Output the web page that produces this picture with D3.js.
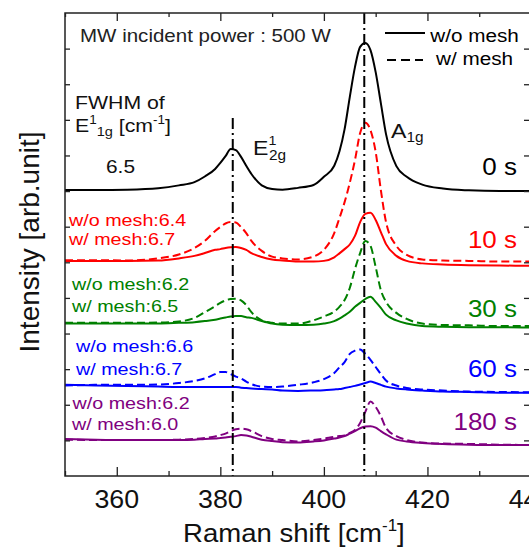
<!DOCTYPE html>
<html><head><meta charset="utf-8">
<script src="https://cdn.jsdelivr.net/npm/d3@7"></script>
<style>html,body{margin:0;padding:0;background:#fff;overflow:hidden}</style>
</head><body>
<svg id="chart" width="529" height="547"></svg>
<script>
// ---- data (Raman shift in cm^-1, intensity in arb. units, spectra offset) ----
const ramanShift = [350,356,362,368,372,375,377,379,380,381,382,383,384,385,386,388,390,392,395,398,400,402,403,404,405,406,407,408,409,410,411,412,414,416,419,423,428,434,440];

const woMesh0s   = [8.03,8.03,8.04,8.08,8.16,8.25,8.41,8.62,8.79,8.98,9.18,9.15,8.96,8.71,8.48,8.16,8.06,8.04,8.09,8.17,8.40,8.71,9.11,9.74,10.64,11.48,12.05,12.16,11.96,11.34,10.47,9.60,8.70,8.40,8.18,8.07,8.02,8.00,8.00];

const woMesh10s  = [6.04,6.04,6.04,6.05,6.11,6.18,6.26,6.35,6.37,6.40,6.42,6.43,6.40,6.35,6.26,6.15,6.08,6.05,6.02,6.02,6.04,6.14,6.25,6.37,6.50,6.74,7.13,7.36,7.39,7.19,6.85,6.51,6.18,6.04,5.97,5.94,5.92,5.91,5.90];
const wMesh10s   = [6.06,6.06,6.05,6.11,6.22,6.40,6.60,6.88,6.99,7.09,7.13,7.12,6.99,6.82,6.60,6.32,6.16,6.11,6.08,6.16,6.35,6.82,7.24,7.69,8.23,8.87,9.63,9.92,9.71,9.10,8.03,7.13,6.46,6.21,6.08,6.05,6.04,6.02,6.02];

const woMesh30s  = [4.28,4.28,4.28,4.28,4.30,4.32,4.35,4.39,4.42,4.45,4.48,4.49,4.49,4.46,4.44,4.35,4.28,4.25,4.24,4.25,4.28,4.35,4.42,4.51,4.61,4.75,4.86,4.97,5.03,4.89,4.72,4.53,4.37,4.28,4.21,4.19,4.18,4.18,4.17];
const wMesh30s   = [4.30,4.30,4.30,4.31,4.34,4.44,4.60,4.77,4.86,4.93,4.97,4.98,4.93,4.80,4.60,4.37,4.30,4.28,4.28,4.37,4.48,4.62,4.75,4.94,5.28,5.81,6.26,6.60,6.46,5.87,5.22,4.89,4.58,4.41,4.28,4.24,4.23,4.21,4.21];

const woMesh60s  = [2.56,2.54,2.53,2.51,2.50,2.50,2.50,2.50,2.50,2.50,2.50,2.50,2.48,2.47,2.46,2.44,2.43,2.40,2.39,2.40,2.41,2.43,2.44,2.47,2.50,2.53,2.57,2.61,2.65,2.61,2.56,2.51,2.46,2.43,2.40,2.37,2.36,2.34,2.34];
const wMesh60s   = [2.54,2.56,2.56,2.57,2.61,2.67,2.74,2.86,2.92,2.92,2.86,2.79,2.74,2.65,2.58,2.51,2.50,2.51,2.56,2.63,2.72,2.89,3.05,3.20,3.43,3.52,3.55,3.43,3.26,3.06,2.86,2.68,2.54,2.47,2.43,2.40,2.37,2.36,2.35];

const woMesh180s = [1.04,1.02,1.01,1.01,1.01,1.02,1.04,1.05,1.07,1.08,1.10,1.12,1.15,1.14,1.10,1.02,0.98,0.95,0.94,0.97,1.00,1.05,1.08,1.12,1.19,1.26,1.34,1.39,1.40,1.36,1.26,1.17,1.02,0.97,0.93,0.90,0.88,0.87,0.87];
const wMesh180s  = [1.02,1.01,1.01,1.01,1.02,1.04,1.07,1.11,1.15,1.19,1.26,1.31,1.33,1.31,1.26,1.12,1.04,1.01,0.97,1.01,1.05,1.10,1.12,1.14,1.21,1.29,1.49,1.80,2.09,1.94,1.68,1.35,1.12,1.01,0.94,0.91,0.90,0.88,0.87];

const timeLabels  = ["0 s","10 s","30 s","60 s","180 s"];
const seriesColors = ["#000000","#ff0000","#008000","#0000ff","#800080"];
const fwhmWo = [null,"6.4","6.2","6.6","6.2"];
const fwhmW  = [null,"6.7","6.5","6.7","6.0"];
const fwhmRef = "6.5";
const peakE2g = 382.4, peakA1g = 407.8;
const xMajorTicks = [360,380,400,420,440];
const xMinorTicks = [350,370,390,410,430];
const yTicks = [1,2,3,4,5,6,7,8,9,10,11,12];

// ---- layout ----
const FONT = "'Liberation Sans', Arial, Helvetica, sans-serif";
const svg = d3.select("#chart");
const L = 65, R = 531, T = 13, B = 476;
const x = d3.scaleLinear().domain([350,440]).range([L,R]);
const y = d3.scaleLinear().domain([0,13]).range([B,T]);

function stext(px, py, parts, o) {
  const t = svg.append("text")
    .attr("transform", `translate(${px},${py}) scale(${o.sx||1},1)`)
    .attr("font-family", FONT).attr("fill", o.color||"#000")
    .attr("text-anchor", o.anchor||"start");
  parts.forEach(p => {
    const ts = t.append("tspan").attr("font-size", p.size||o.size).text(p.t);
    if (p.dy) ts.attr("dy", p.dy);
    if (p.x !== undefined) ts.attr("x", p.x);
  });
  return t;
}

// ---- curves ----
const line = d3.line().x((d,i)=>x(ramanShift[i])).y(d=>y(d)).curve(d3.curveMonotoneX);
const solids = [woMesh0s, woMesh10s, woMesh30s, woMesh60s, woMesh180s];
const dashes = [null, wMesh10s, wMesh30s, wMesh60s, wMesh180s];
const plot = svg.append("g");
dashes.forEach((s,i)=>{ if(!s) return;
  plot.append("path").attr("d", line(s)).attr("fill","none")
    .attr("stroke", seriesColors[i]).attr("stroke-width",2).attr("stroke-dasharray","8,4");
});
solids.forEach((s,i)=>{
  plot.append("path").attr("d", line(s)).attr("fill","none")
    .attr("stroke", seriesColors[i]).attr("stroke-width",2);
});

// ---- dash-dot peak lines ----
svg.append("line").attr("x1",x(peakE2g)).attr("x2",x(peakE2g)).attr("y1",118).attr("y2",B)
  .attr("stroke","#000").attr("stroke-width",2).attr("stroke-dasharray","11,4,2,4");
svg.append("line").attr("x1",x(peakA1g)).attr("x2",x(peakA1g)).attr("y1",T).attr("y2",B)
  .attr("stroke","#000").attr("stroke-width",2).attr("stroke-dasharray","11,4,2,4");

// ---- axes / frame ----
const axStroke = "#222";
function styleAxis(g){ g.select(".domain").remove(); g.selectAll("line").attr("stroke",axStroke).attr("stroke-width",1.3); }
svg.append("g").attr("transform",`translate(0,${B})`)
  .call(d3.axisBottom(x).tickValues(xMajorTicks).tickSize(-9).tickFormat("")).call(styleAxis);
svg.append("g").attr("transform",`translate(0,${B})`)
  .call(d3.axisBottom(x).tickValues(xMinorTicks).tickSize(-5).tickFormat("")).call(styleAxis);
svg.append("g").attr("transform",`translate(0,${T})`)
  .call(d3.axisTop(x).tickValues(xMajorTicks).tickSize(-8).tickFormat("")).call(styleAxis);
svg.append("g").attr("transform",`translate(0,${T})`)
  .call(d3.axisTop(x).tickValues(xMinorTicks).tickSize(-4).tickFormat("")).call(styleAxis);
svg.append("g").attr("transform",`translate(${L},0)`)
  .call(d3.axisLeft(y).tickValues(yTicks).tickSize(-5).tickFormat("")).call(styleAxis);
svg.append("g").attr("transform",`translate(${R},0)`)
  .call(d3.axisRight(y).tickValues(yTicks).tickSize(-7).tickFormat("")).call(styleAxis);
svg.append("rect").attr("x",L).attr("y",T).attr("width",R-L).attr("height",B-T)
  .attr("fill","none").attr("stroke",axStroke).attr("stroke-width",1.5);

// tick labels
xMajorTicks.forEach(v=> stext(x(v), 508, [{t:String(v)}], {size:26, sx:1.03, anchor:"middle", color:"#111"}));
// axis titles
stext(183, 541.5, [{t:"Raman shift [cm"},{t:"-1",size:16,dy:-11},{t:"]",dy:11}], {size:26, sx:1.06, color:"#111"});
svg.append("text").attr("transform","translate(38.5,242) rotate(-90)")
  .attr("font-family",FONT).attr("font-size",28).attr("text-anchor","middle").attr("fill","#111")
  .text("Intensity [arb.unit]");

// ---- annotations ----
stext(80, 42, [{t:"MW incident power : 500 W"}], {size:18, sx:1.14, color:"#222"});
// legend
svg.append("line").attr("x1",385).attr("x2",425).attr("y1",33).attr("y2",33).attr("stroke","#000").attr("stroke-width",2);
svg.append("line").attr("x1",387).attr("x2",423).attr("y1",60).attr("y2",60).attr("stroke","#000").attr("stroke-width",2).attr("stroke-dasharray","9,5");
stext(474.5, 42, [{t:"w/o mesh"}], {size:18.5, sx:1.12, anchor:"middle"});
stext(474.5, 65, [{t:"w/ mesh"}], {size:18.5, sx:1.12, anchor:"middle"});

stext(75, 109, [{t:"FWHM of"}], {size:19, sx:1.12, color:"#111"});
stext(75, 132, [{t:"E"},{t:"1",size:12,dy:-8},{t:"1g",size:13,dy:12},{t:" [cm",dy:-4},{t:"-1",size:12,dy:-8},{t:"]",dy:8}], {size:19, sx:1.12, color:"#111"});
stext(106, 173, [{t:fwhmRef}], {size:18.5, sx:1.13, color:"#111"});

stext(253, 155, [{t:"E"},{t:"1",size:13,dy:-10},{t:"2g",size:14,dy:15,x:14.5}], {size:21, sx:1.1, color:"#111"});
stext(391, 138, [{t:"A"},{t:"1g",size:14,dy:4}], {size:21, sx:1.1, color:"#111"});

// time labels
const timeY = [175, 248, 317, 377, 430];
timeLabels.forEach((t,i)=> stext(517, timeY[i], [{t}], {size:23, sx:1.13, anchor:"end", color:seriesColors[i]}));

// FWHM labels
const woPos = [null,[69,226],[72,290],[76,352],[72.5,409]];
const wPos  = [null,[69,245],[72,311.5],[76,375],[72,430]];
for (let i=1;i<5;i++){
  stext(woPos[i][0], woPos[i][1], [{t:"w/o mesh:"+fwhmWo[i]}], {size:17, sx:1.16, color:seriesColors[i]});
  stext(wPos[i][0], wPos[i][1], [{t:"w/ mesh:"+fwhmW[i]}], {size:17, sx:1.16, color:seriesColors[i]});
}
</script>
</body></html>
